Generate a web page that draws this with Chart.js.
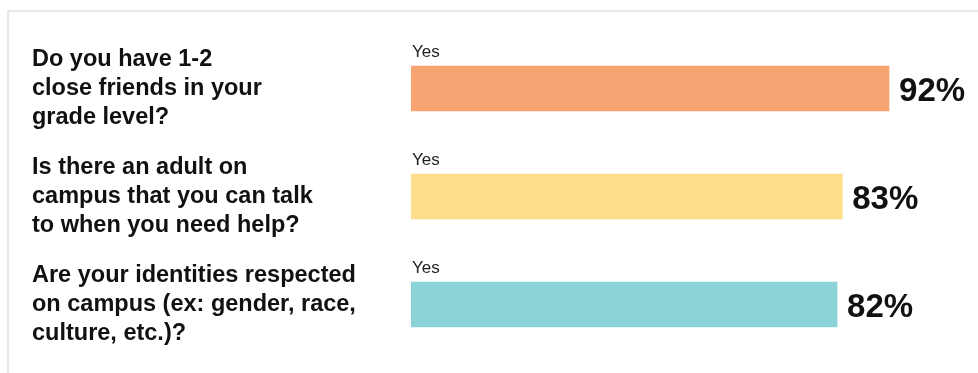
<!DOCTYPE html>
<html>
<head>
<meta charset="utf-8">
<script src="https://cdn.jsdelivr.net/npm/chart.js@4/dist/chart.umd.min.js"></script>
<style>
  body { margin: 0; background: #fff; }
  #wrap { position: relative; width: 978px; height: 373px; }
</style>
</head>
<body>
<div id="wrap"><canvas id="myChart" width="978" height="373"></canvas></div>
<script>
const questions = [
  ['Do you have 1-2', 'close friends in your', 'grade level?'],
  ['Is there an adult on', 'campus that you can talk', 'to when you need help?'],
  ['Are your identities respected', 'on campus (ex: gender, race,', 'culture, etc.)?']
];
const answerLabel = 'Yes';
const yesPercent = [92, 83, 82];
const barColors = ['#F7A372', '#FDDC8A', '#8BD3D6'];

const FONT = "'Liberation Sans', Arial, sans-serif";

// gray frame on the top and left side
const framePlugin = {
  id: 'frame',
  beforeDraw(chart) {
    const c = chart.ctx;
    c.save();
    c.fillStyle = '#e9e7e4';
    c.fillRect(7, 10, chart.width - 7, 2);
    c.fillRect(7, 10, 2, chart.height - 10);
    c.restore();
  }
};

// "Yes" above each bar and the percent after it
const barTextPlugin = {
  id: 'barText',
  afterDatasetsDraw(chart) {
    const c = chart.ctx;
    const meta = chart.getDatasetMeta(0);
    c.save();
    meta.data.forEach((bar, i) => {
      const top = bar.y - bar.height / 2;
      c.fillStyle = '#222';
      c.font = '17px ' + FONT;
      c.textAlign = 'left';
      c.textBaseline = 'alphabetic';
      c.fillText(answerLabel, bar.base + 1, top - 9);

      c.fillStyle = '#111';
      c.font = 'bold 33px ' + FONT;
      c.fillText(yesPercent[i] + '%', bar.x + 10, bar.y + 12);
    });
    c.restore();
  }
};

const ctx = document.getElementById('myChart');

new Chart(ctx, {
  type: 'bar',
  data: {
    labels: questions,
    datasets: [{
      label: answerLabel,
      data: yesPercent,
      backgroundColor: barColors,
      barThickness: 45,
      borderWidth: 0
    }]
  },
  plugins: [framePlugin, barTextPlugin],
  options: {
    indexAxis: 'y',
    responsive: false,
    animation: false,
    layout: {
      padding: { left: 32, right: 47.4, top: 34.5, bottom: 14.5 }
    },
    plugins: {
      legend: { display: false },
      tooltip: { enabled: false }
    },
    scales: {
      x: {
        display: false,
        min: 0,
        max: 100
      },
      y: {
        grid: { display: false },
        border: { display: false },
        ticks: {
          crossAlign: 'far',
          color: '#111',
          font: { family: FONT, size: 23.5, weight: 'bold', lineHeight: 29 / 23.5 }
        },
        afterFit(scale) {
          scale.width = 411 - 32;
          scale.paddingTop = 0;
          scale.paddingBottom = 0;
        }
      }
    }
  }
});
</script>
</body>
</html>
